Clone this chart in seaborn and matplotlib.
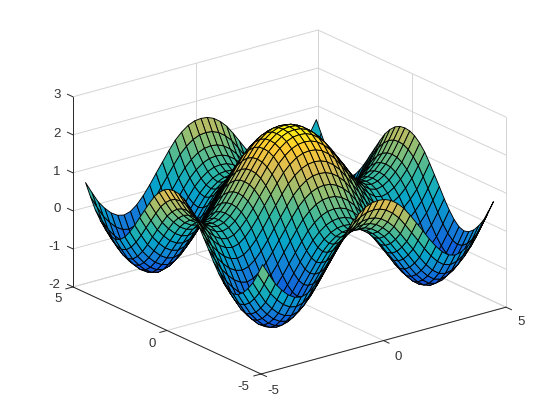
import numpy as np
import seaborn as sns
import matplotlib
matplotlib.use("Agg")
import matplotlib.pyplot as plt
from matplotlib.colors import Normalize
from mpl_toolkits.mplot3d import proj3d

sns.set_style("white")
plt.rcParams['font.family'] = ['Liberation Sans', 'DejaVu Sans']

# grid lines of the surface
x_nodes = [-4.71, -4.45, -4.19, -3.93, -3.67, -3.40, -3.14, -2.88, -2.62, -2.36, -2.09, -1.83,
           -1.57, -1.31, -1.05, -0.79, -0.52, -0.26, 0.00, 0.26, 0.52, 0.79, 1.05, 1.31,
           1.57, 1.83, 2.09, 2.36, 2.62, 2.88, 3.14, 3.40, 3.67, 3.93, 4.19, 4.45, 4.71]
y_nodes = list(x_nodes)

# height contributed by each grid line, estimated from the ridges and valleys
x_height = [0.38, 0.07, -0.22, -0.43, -0.60, -0.71, -0.75, -0.70, -0.57, -0.38, -0.14, 0.12,
            0.37, 0.62, 0.85, 1.02, 1.15, 1.22, 1.24, 1.22, 1.15, 1.02, 0.85, 0.62,
            0.37, 0.12, -0.14, -0.38, -0.57, -0.70, -0.75, -0.71, -0.60, -0.43, -0.22, 0.07, 0.38]
y_height = list(x_height)

x_ticks = [-5, 0, 5]
y_ticks = [-5, 0, 5]
z_ticks = [-2, -1, 0, 1, 2, 3]

color_low = -1.6
color_high = 2.55
parula = ["#352a87", "#0f5cdd", "#1481d6", "#06a4ca", "#2eb7a4",
          "#87bf77", "#d1bb59", "#fec832", "#f9fb0e"]

W, H = 560, 420
fig = plt.figure(figsize=(W / 100, H / 100), dpi=100, facecolor='white')
ax = fig.add_subplot(projection='3d', computed_zorder=False, proj_type='ortho')
ax.view_init(elev=30, azim=-127.5)
ax.set_box_aspect((1, 1, 1))
ax.set_xlim(-5, 5, view_margin=0)
ax.set_ylim(-5, 5, view_margin=0)
ax.set_zlim(-2, 3, view_margin=0)
ax.set_axis_off()

# matlab stretches the box to fill the axes, so no square aspect here
ax.apply_aspect = lambda position=None: None


def to_2d(x, y, z):
    px, py, _ = proj3d.proj_transform(x, y, z, ax.get_proj())
    return px, py


# put the box corners on the pixels they have in the picture
left_x = to_2d(-5, 5, -2)[0]
right_x = to_2d(5, -5, -2)[0]
front_y = to_2d(-5, -5, -2)[1]
top_y = to_2d(5, 5, 3)[1]
sx = (506 - 73) / (right_x - left_x)
sy = (374 - 30) / (top_y - front_y)
x0, x1 = ax.viewLim.x0, ax.viewLim.x1
y0, y1 = ax.viewLim.y0, ax.viewLim.y1
pos_l = 73 + (x0 - left_x) * sx
pos_b = (H - 374) + (y0 - front_y) * sy
ax.set_position([pos_l / W, pos_b / H, (x1 - x0) * sx / W, (y1 - y0) * sy / H])

# back walls and floor
grid_c = '#d4d4d4'
for z in z_ticks:
    ax.plot([-5, 5], [5, 5], [z, z], color=grid_c, lw=0.7, zorder=1)
    ax.plot([5, 5], [-5, 5], [z, z], color=grid_c, lw=0.7, zorder=1)
for t in x_ticks:
    ax.plot([t, t], [-5, 5], [-2, -2], color=grid_c, lw=0.7, zorder=1)
    ax.plot([t, t], [5, 5], [-2, 3], color=grid_c, lw=0.7, zorder=1)
for t in y_ticks:
    ax.plot([-5, 5], [t, t], [-2, -2], color=grid_c, lw=0.7, zorder=1)
    ax.plot([5, 5], [t, t], [-2, 3], color=grid_c, lw=0.7, zorder=1)

# the surface, each face coloured by its first corner as in matlab
X, Y = np.meshgrid(x_nodes, y_nodes)
Z = np.add.outer(y_height, x_height)
cmap = sns.blend_palette(parula, as_cmap=True)
ax.plot_surface(X, Y, Z, rstride=1, cstride=1, facecolors=cmap(Normalize(color_low, color_high)(Z)),
                edgecolor='black', linewidth=0.65, shade=False, zorder=2)

# axis lines and ticks
ax_c = '#262626'
ax.plot([-5, 5], [-5, -5], [-2, -2], color=ax_c, lw=0.7, zorder=3)
ax.plot([-5, -5], [-5, 5], [-2, -2], color=ax_c, lw=0.7, zorder=3)
ax.plot([-5, -5], [5, 5], [-2, 3], color=ax_c, lw=0.7, zorder=3)
for t in x_ticks:
    ax.plot([t, t], [-5, -5.3], [-2, -2], color=ax_c, lw=0.7, zorder=3)
for t in y_ticks:
    ax.plot([-5, -5.3], [t, t], [-2, -2], color=ax_c, lw=0.7, zorder=3)
for z in z_ticks:
    ax.plot([-5, -5], [5, 5.3], [z, z], color=ax_c, lw=0.7, zorder=3)

x_label_px = [(273, 391), (398, 357), (521, 322)]
y_label_px = [(243, 387), (152, 344), (58, 299)]
z_label_px = [(54, 285), (54, 247), (57, 209), (57, 172), (57, 134), (57, 95)]
for ticks, places in [(x_ticks, x_label_px), (y_ticks, y_label_px), (z_ticks, z_label_px)]:
    for t, (px, py) in zip(ticks, places):
        fig.text(px / W, 1 - py / H, str(t), ha='center', va='center', fontsize=9.5, color='#333333')

fig.savefig('out.png', dpi=100)
